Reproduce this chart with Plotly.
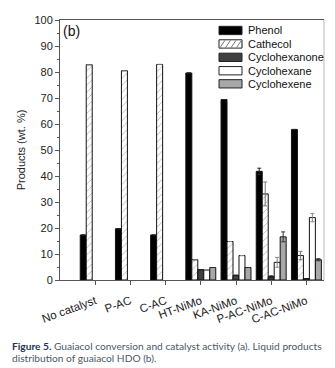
import plotly.graph_objects as go

categories = ["No catalyst", "P-AC", "C-AC", "HT-NiMo", "KA-NiMo", "P-AC-NiMo", "C-AC-NiMo"]
series_names = ["Phenol", "Cathecol", "Cyclohexanone", "Cyclohexane", "Cyclohexene"]
phenol = [17.3, 19.7, 17.3, 79.6, 69.4, 41.8, 57.9]
cathecol = [82.8, 80.5, 82.9, 7.8, 14.8, 33.1, 9.4]
cyclohexanone = [None, None, None, 4.0, 1.8, 1.3, 0.5]
cyclohexane = [None, None, None, 3.8, 9.4, 6.8, 24.0]
cyclohexene = [None, None, None, 4.8, 4.8, 16.6, 7.8]
phenol_err = [None, None, None, None, None, 1.2, None]
cathecol_err = [None, None, None, None, None, 4.6, 1.6]
cyclohexanone_err = [None, None, None, None, None, 0.3, None]
cyclohexane_err = [None, None, None, None, None, 1.9, 1.6]
cyclohexene_err = [None, None, None, None, None, 1.9, 0.4]
y_ticks = [0, 10, 20, 30, 40, 50, 60, 70, 80, 90, 100]

values = [phenol, cathecol, cyclohexanone, cyclohexane, cyclohexene]
errors = [phenol_err, cathecol_err, cyclohexanone_err, cyclohexane_err, cyclohexene_err]
fills = ["#000000", "#ffffff", "#404040", "#ffffff", "#a8a8a8"]
err_colors = ["#222222", "#777777", "#222222", "#888888", "#333333"]

W, H = 335, 368
L, R, T, B = 52, 19, 6, 96
pw, ph = W - L - R, H - T - B

fig = go.Figure()
for i, name in enumerate(series_names):
    marker = dict(color=fills[i], line=dict(color="#111111", width=1))
    if name == "Cathecol":
        marker["pattern"] = dict(shape="/", fgcolor="#555555", bgcolor="#ffffff",
                                 size=5, solidity=0.15)
    fig.add_trace(go.Bar(
        name=name, x=categories, y=values[i], marker=marker,
        error_y=dict(type="data", array=errors[i], visible=True,
                     color=err_colors[i], thickness=1, width=2),
        showlegend=False,
    ))

# custom legend (swatches + labels)
def px_to_paper(xp, yp):
    return (xp - L) / pw, (H - B - yp) / ph

row_y = [16.7, 30.5, 44.2, 57.9, 71.3]
sx0, sx1, sh = 211, 234, 8.5
for i, name in enumerate(series_names):
    x0, y0 = px_to_paper(sx0, row_y[i] + sh / 2)
    x1, y1 = px_to_paper(sx1, row_y[i] - sh / 2)
    fig.add_shape(type="rect", xref="paper", yref="paper", x0=x0, x1=x1, y0=y0, y1=y1,
                  fillcolor=fills[i], line=dict(color="#222222", width=1))
    if name == "Cathecol":
        path = ""
        for k in range(5):
            xa = sx0 + 1 + k * 5.5
            xb = xa + 5
            if xb > sx1 - 0.5:
                xb = sx1 - 0.5
            pa = px_to_paper(xa, row_y[i] + sh / 2 - 0.5)
            pb = px_to_paper(xb, row_y[i] - sh / 2 + 0.5)
            path += f"M{pa[0]},{pa[1]} L{pb[0]},{pb[1]} "
        fig.add_shape(type="path", xref="paper", yref="paper", path=path,
                      line=dict(color="#777777", width=1))
    tx, ty = px_to_paper(238, row_y[i])
    fig.add_annotation(text=name, xref="paper", yref="paper", x=tx, y=ty,
                       xanchor="left", yanchor="middle", showarrow=False,
                       font=dict(family="Arial, Liberation Sans", size=11, color="#111111"))

# right frame line (lighter)
fig.add_shape(type="line", xref="paper", yref="paper", x0=1, x1=1, y0=0, y1=1,
              line=dict(color="#bbbbbb", width=1))

# panel label
fig.add_annotation(text="(b)", xref="paper", yref="paper", x=px_to_paper(53, 0)[0],
                   y=px_to_paper(0, 17)[1], xanchor="left", yanchor="middle",
                   showarrow=False,
                   font=dict(family="Arial, Liberation Sans", size=14, color="#111111"))

# caption
cap1 = ("<span style='color:#1d3557'><b>Figure 5.</b></span> "
        "Guaiacol conversion and catalyst activity (a). Liquid products")
cap2 = "distribution of guaiacol HDO (b)."
for txt, yy in [(cap1, 339.5), (cap2, 352)]:
    fig.add_annotation(text=txt, xref="paper", yref="paper",
                       x=px_to_paper(2, 0)[0], y=px_to_paper(0, yy)[1],
                       xanchor="left", yanchor="middle", showarrow=False,
                       font=dict(family="Lato", size=10.2, color="#4a5868"))

fig.update_layout(
    width=W, height=H,
    margin=dict(l=L, r=R, t=T, b=B),
    paper_bgcolor="white", plot_bgcolor="white",
    barmode="group", bargap=0.15, bargroupgap=0,
    font=dict(family="Arial, Liberation Sans", size=11, color="#222222"),
    showlegend=False,
)
fig.update_xaxes(
    range=[-1, 6.5], showgrid=False, showline=True, linecolor="#555555", linewidth=1,
    mirror=True, ticks="outside", ticklen=4, tickcolor="#555555", tickangle=-20,
    ticklabelstandoff=5,
    tickfont=dict(size=11.5, color="#222222"),
)
fig.update_yaxes(
    range=[0, 100], tickvals=y_ticks, showgrid=False, showline=True,
    linecolor="#555555", linewidth=1, ticks="outside", ticklen=4, tickcolor="#555555",
    minor=dict(ticks="outside", ticklen=2, dtick=5, tickcolor="#555555"),
    ticklabeloverflow="allow",
    title=dict(text="Products (wt. %)", font=dict(size=11, color="#222222"), standoff=6),
    tickfont=dict(size=11, color="#222222"), zeroline=False,
)

fig.write_html("out.html")
